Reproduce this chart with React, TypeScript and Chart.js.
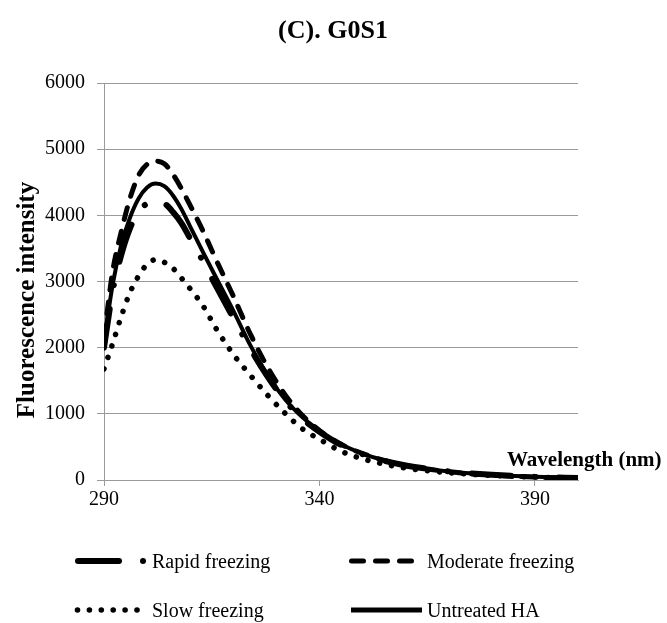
import React, { useEffect, useRef } from "react";
import { Chart, registerables } from "chart.js";

Chart.register(...registerables);

const chartTitle = "(C). G0S1";
const xTitle = "Wavelength (nm)";
const yTitle = "Fluorescence intensity";
const seriesNames = ["Rapid freezing", "Moderate freezing", "Slow freezing", "Untreated HA"];

const wavelengths = [290, 292, 294, 296, 298, 300, 302, 304, 306, 308, 310, 313, 316, 320, 324, 328, 332, 336, 340, 345, 350, 355, 360, 370, 380, 390, 400];
const rapid = [2000, 2850, 3400, 3800, 4050, 4180, 4220, 4180, 4050, 3880, 3650, 3300, 2930, 2450, 1980, 1560, 1200, 930, 730, 530, 390, 290, 220, 130, 80, 50, 30];
const moderate = [2150, 3150, 3750, 4250, 4600, 4770, 4820, 4780, 4620, 4400, 4150, 3760, 3330, 2780, 2200, 1700, 1290, 980, 750, 540, 400, 295, 220, 125, 75, 45, 25];
const slow = [1680, 2060, 2470, 2830, 3080, 3260, 3330, 3290, 3200, 3050, 2890, 2630, 2290, 1900, 1580, 1280, 1010, 775, 615, 435, 320, 240, 180, 110, 70, 45, 25];
const untreated = [2080, 2950, 3550, 3960, 4250, 4420, 4480, 4440, 4300, 4090, 3830, 3440, 3060, 2560, 2030, 1580, 1220, 950, 740, 540, 400, 300, 225, 130, 80, 50, 30];

const xTicks = [290, 340, 390];
const yMin = 0;
const yMax = 6000;
const yStep = 1000;
const xMin = 290;
const xMax = 400;

const SERIF = "'Liberation Serif', 'Times New Roman', serif";
const GRID = "#9a9a9a";

const toPoints = (ys: number[]) => ys.map((y, i) => ({ x: wavelengths[i], y }));

const decorPlugin = {
  id: "decor",
  afterDraw(chart: any) {
    const ctx = chart.ctx as CanvasRenderingContext2D;
    ctx.save();
    ctx.fillStyle = "#000";
    ctx.strokeStyle = "#000";

    // Title
    ctx.font = `bold 26px ${SERIF}`;
    ctx.textAlign = "center";
    ctx.textBaseline = "alphabetic";
    ctx.fillText(chartTitle, 333, 38);

    // X axis title (inside plot, right)
    ctx.font = `bold 21px ${SERIF}`;
    ctx.textAlign = "left";
    ctx.fillText(xTitle, 507, 466);

    // Y axis title
    ctx.save();
    ctx.translate(34, 300);
    ctx.rotate(-Math.PI / 2);
    ctx.font = `bold 25px ${SERIF}`;
    ctx.textAlign = "center";
    ctx.fillText(yTitle, 0, 0);
    ctx.restore();

    // Legend
    ctx.font = `20px ${SERIF}`;
    ctx.textAlign = "left";
    const r1 = 561;
    const r2 = 610;

    // Rapid
    ctx.lineCap = "round";
    ctx.lineWidth = 6;
    ctx.setLineDash([]);
    ctx.beginPath();
    ctx.moveTo(78, r1);
    ctx.lineTo(119, r1);
    ctx.stroke();
    ctx.beginPath();
    ctx.arc(143, r1, 3, 0, Math.PI * 2);
    ctx.fill();
    ctx.fillText(seriesNames[0], 152, r1 + 7);

    // Moderate
    ctx.lineWidth = 5;
    ctx.setLineDash([12, 12]);
    ctx.beginPath();
    ctx.moveTo(351.5, r1);
    ctx.lineTo(412, r1);
    ctx.stroke();
    ctx.setLineDash([]);
    ctx.fillText(seriesNames[1], 427, r1 + 7);

    // Slow
    for (let i = 0; i < 6; i++) {
      ctx.beginPath();
      ctx.arc(77.5 + i * 11.9, r2, 2.8, 0, Math.PI * 2);
      ctx.fill();
    }
    ctx.fillText(seriesNames[2], 152, r2 + 7);

    // Untreated
    ctx.lineCap = "butt";
    ctx.lineWidth = 5;
    ctx.beginPath();
    ctx.moveTo(351, r2);
    ctx.lineTo(422, r2);
    ctx.stroke();
    ctx.fillText(seriesNames[3], 427, r2 + 7);

    ctx.restore();
  },
};

export default function App() {
  const ref = useRef<HTMLCanvasElement | null>(null);

  useEffect(() => {
    if (!ref.current) return;
    const common = {
      pointRadius: 0,
      fill: false,
      borderColor: "#000",
      cubicInterpolationMode: "monotone" as const,
      borderCapStyle: "round" as const,
      borderJoinStyle: "round" as const,
    };
    const chart = new Chart(ref.current, {
      type: "line",
      data: {
        datasets: [
          { ...common, label: seriesNames[0], data: toPoints(rapid), borderWidth: 6, borderDash: [39, 24, 0.1, 24] },
          { ...common, label: seriesNames[1], data: toPoints(moderate), borderWidth: 5, borderDash: [12, 12] },
          { ...common, label: seriesNames[2], data: toPoints(slow), borderWidth: 5.5, borderDash: [0.1, 12] },
          { ...common, label: seriesNames[3], data: toPoints(untreated), borderWidth: 4 },
        ].reverse(),
      },
      options: {
        responsive: false,
        animation: false,
        devicePixelRatio: 1,
        layout: { padding: { top: 83, left: 0, right: 89, bottom: 0 } },
        plugins: {
          legend: { display: false },
          tooltip: { enabled: false },
          title: { display: false },
        },
        scales: {
          x: {
            type: "linear",
            min: xMin,
            max: xMax,
            afterBuildTicks: (scale: any) => {
              scale.ticks = xTicks.map((v) => ({ value: v }));
            },
            afterFit: (scale: any) => {
              scale.height = 143;
            },
            grid: { drawOnChartArea: false, drawTicks: true, tickLength: 6, color: GRID },
            border: { display: true, color: GRID, width: 1 },
            ticks: {
              color: "#000",
              font: { family: SERIF, size: 20 },
              padding: 2,
              maxRotation: 0,
              callback: (v: any) => String(v),
            },
          },
          y: {
            min: yMin,
            max: yMax,
            afterFit: (scale: any) => {
              scale.width = 104;
            },
            ticks: {
              stepSize: yStep,
              color: "#000",
              font: { family: SERIF, size: 20 },
              padding: 12,
              callback: (v: any) => String(v),
            },
            grid: { color: GRID, tickLength: 7, drawTicks: true },
            border: { display: true, color: GRID, width: 1 },
          },
        },
      },
      plugins: [decorPlugin],
    });
    return () => chart.destroy();
  }, []);

  return (
    <div style={{ position: "absolute", left: 0, top: 0, width: 667, height: 623, background: "#fff" }}>
      <canvas ref={ref} width={667} height={623} style={{ width: 667, height: 623, display: "block" }} />
    </div>
  );
}
